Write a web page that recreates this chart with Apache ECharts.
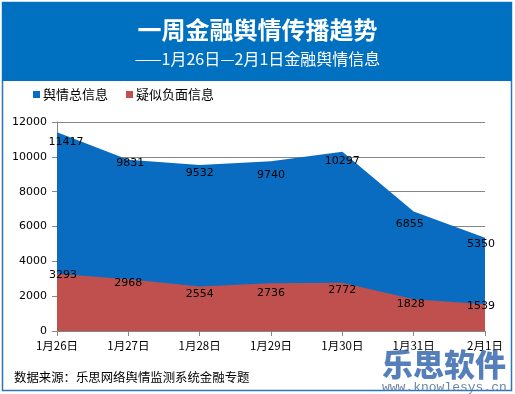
<!DOCTYPE html>
<html><head><meta charset="utf-8">
<script src="https://cdn.jsdelivr.net/npm/echarts@6/dist/echarts.min.js"></script>
<style>html,body{margin:0;padding:0;background:#fff}#c{width:515px;height:394px}</style>
</head><body><div id="c"></div>
<script>
var categories = ['1月26日','1月27日','1月28日','1月29日','1月30日','1月31日','2月1日'];
var totalInfo = [11417, 9831, 9532, 9740, 10297, 6855, 5350];
var negativeInfo = [3293, 2968, 2554, 2736, 2772, 1828, 1539];
var yTicks = [0, 2000, 4000, 6000, 8000, 10000, 12000];
var seriesNames = ['舆情总信息', '疑似负面信息'];

var totalOffsets = [[9,10],[2,3],[0,8],[0,14],[0,9],[-4,13],[-4,6]];
var negOffsets = [[6,1],[0,4],[0,8],[0,10],[0,7],[-3,5],[-4,2]];

function mk(vals, offs){
  return vals.map(function(v,i){ return {value:v, label:{offset:offs[i]}}; });
}
var chart = echarts.init(document.getElementById('c'), null, {renderer:'canvas'});
chart.setOption({
  animation:false,
  backgroundColor:'#fff',
  graphic:[
    {type:'rect', shape:{x:2.5,y:2.5,width:509,height:388}, style:{fill:'#fff', stroke:'#2E75B6', lineWidth:1.5}, z:-10},
    {type:'rect', shape:{x:2,y:2,width:510,height:79}, style:{fill:'#0070C0'}, z:-9},
    {type:'text', left:'center', top:18, style:{text:'一周金融舆情传播趋势', fill:'#fff', font:'bold 24px "Noto Sans CJK SC"'}},
    {type:'text', left:'center', top:51, style:{text:'——1月26日—2月1日金融舆情信息', fill:'#fff', font:'16px "Noto Sans CJK SC"'}},
    {type:'text', left:14, top:371, style:{text:'数据来源：乐思网络舆情监测系统金融专题', fill:'#000', font:'12.4px "Noto Sans CJK SC"'}},
    {type:'text', left:382, top:349, z:100, style:{text:'乐思软件', fill:'rgba(55,105,175,0.85)', font:'900 31px "Noto Sans CJK SC"'}},
    {type:'text', left:382, top:381, z:100, style:{text:'www.knowlesys.cn', fill:'rgba(90,120,160,0.9)', font:'13px "Liberation Mono"'}}
  ],
  legend:{
    left:28, top:83, itemWidth:7, itemHeight:7, itemGap:18, icon:'rect',
    textStyle:{fontFamily:'Noto Sans CJK SC', fontSize:13, color:'#000', padding:[0,0,0,-2]},
    data:seriesNames
  },
  grid:{left:57, right:30, top:122, bottom:63, containLabel:false},
  xAxis:{
    type:'category', data:categories, boundaryGap:false,
    axisLine:{lineStyle:{color:'#868686'}},
    axisTick:{alignWithLabel:true, length:5, lineStyle:{color:'#868686'}},
    axisLabel:{margin:9, fontFamily:'Noto Sans CJK SC', fontSize:11.5, color:'#000', interval:0}
  },
  yAxis:{
    type:'value', min:yTicks[0], max:yTicks[yTicks.length-1], interval:yTicks[1]-yTicks[0],
    axisLine:{show:true, lineStyle:{color:'#868686'}},
    axisTick:{show:true, length:5, lineStyle:{color:'#868686'}},
    splitLine:{lineStyle:{color:'#868686'}},
    axisLabel:{margin:10, fontFamily:'DejaVu Sans', fontSize:11, color:'#000', formatter:function(v){return String(v);}}
  },
  series:[
    {name:seriesNames[0], type:'line', data:mk(totalInfo,totalOffsets), symbol:'circle', symbolSize:0.1, showSymbol:true,
     itemStyle:{color:'#0A6CC0'}, lineStyle:{width:0}, areaStyle:{color:'#0A6CC0', opacity:1},
     label:{show:true, position:'inside', fontFamily:'DejaVu Sans', fontSize:11, color:'#000'}, z:2},
    {name:seriesNames[1], type:'line', data:mk(negativeInfo,negOffsets), symbol:'circle', symbolSize:0.1, showSymbol:true,
     itemStyle:{color:'#C0504D'}, lineStyle:{width:0}, areaStyle:{color:'#C0504D', opacity:1},
     label:{show:true, position:'inside', fontFamily:'DejaVu Sans', fontSize:11, color:'#000'}, z:3}
  ]
});
</script></body></html>
